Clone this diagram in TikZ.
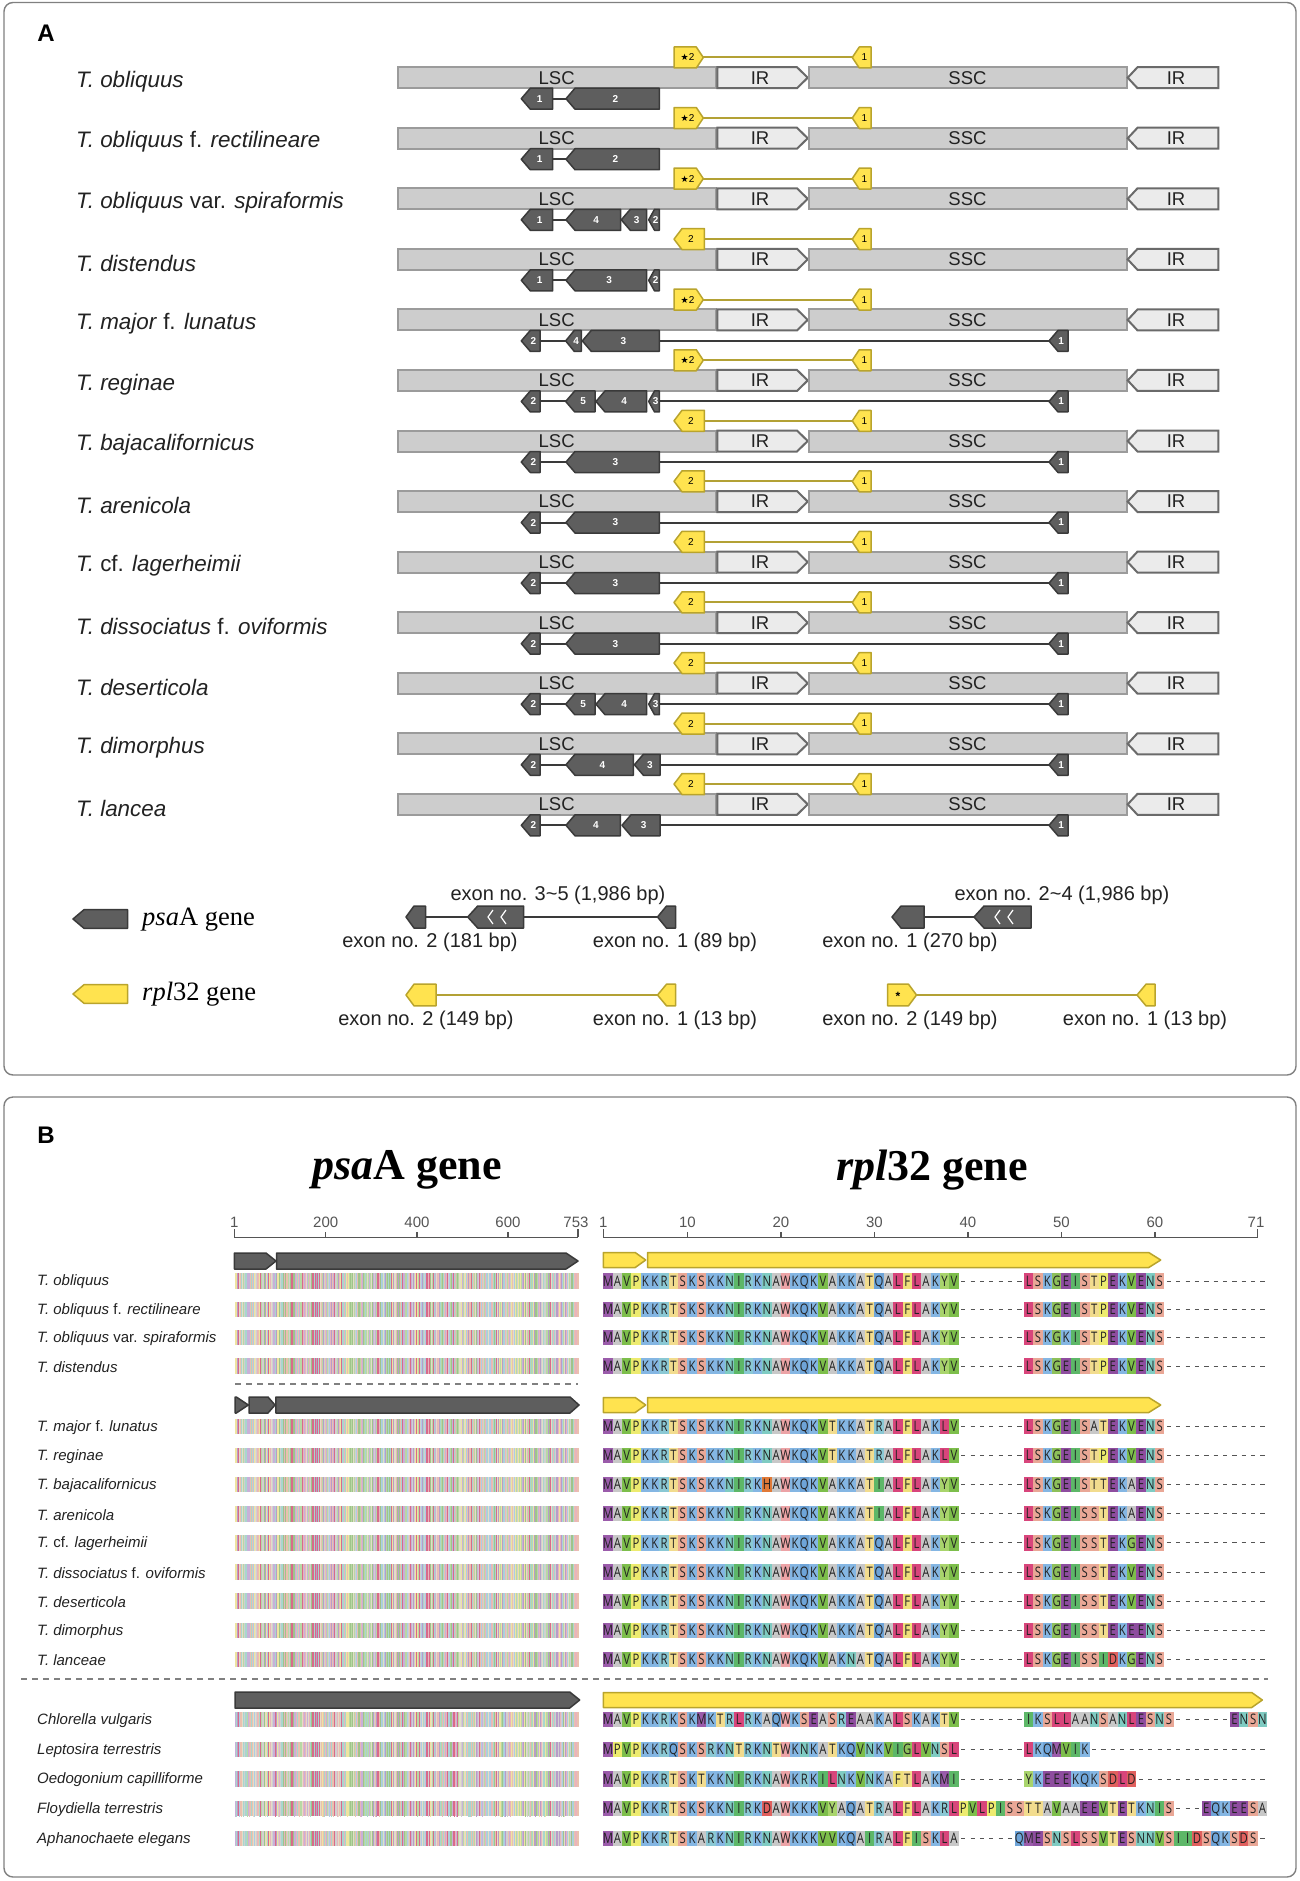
\documentclass[tikz,border=0pt]{standalone}
\usepackage{fontspec}
\setmainfont{Liberation Sans}
\newfontfamily\serifft{Liberation Serif}
\newfontfamily\resfont[FakeStretch=0.78]{Open Sans}
\newfontfamily\symfont{DejaVu Sans}

\definecolor{framec}{HTML}{808080}
\definecolor{barfill}{HTML}{CDCDCD}
\definecolor{bardraw}{HTML}{9B9B9B}
\definecolor{irfill}{HTML}{EBEBEB}
\definecolor{irdraw}{HTML}{6A6A6A}
\definecolor{psafill}{HTML}{5E5E5E}
\definecolor{psadraw}{HTML}{3A3A3A}
\definecolor{rplfill}{HTML}{FFE34F}
\definecolor{rpldraw}{HTML}{B9A42C}
\definecolor{rplline}{HTML}{B3A135}
\definecolor{txtc}{HTML}{222222}
\definecolor{scalec}{HTML}{555555}
% residue colours
\definecolor{resM}{HTML}{9A5BAA}
\definecolor{resA}{HTML}{C8C8C8}
\definecolor{resV}{HTML}{7DBE4B}
\definecolor{resP}{HTML}{EDEB6F}
\definecolor{resK}{HTML}{84B6E3}
\definecolor{resR}{HTML}{8AC8D4}
\definecolor{resT}{HTML}{F2DC8E}
\definecolor{resS}{HTML}{E9A796}
\definecolor{resN}{HTML}{7FCBC2}
\definecolor{resI}{HTML}{5DB768}
\definecolor{resW}{HTML}{ECA3A6}
\definecolor{resQ}{HTML}{6EA4D8}
\definecolor{resL}{HTML}{D8457B}
\definecolor{resF}{HTML}{EFE07A}
\definecolor{resY}{HTML}{A9D46C}
\definecolor{resE}{HTML}{8E4D9F}
\definecolor{resG}{HTML}{8DC05A}
\definecolor{resD}{HTML}{E0605E}
\definecolor{resH}{HTML}{E07A38}
% stripe palette
\definecolor{stc1}{HTML}{C8B0D8}
\definecolor{stc2}{HTML}{E8B4BC}
\definecolor{stc3}{HTML}{B8D8A4}
\definecolor{stc4}{HTML}{EEE4A0}
\definecolor{stc5}{HTML}{AECBE6}
\definecolor{stc6}{HTML}{D0D0D0}
\definecolor{stc7}{HTML}{EAC0AE}
\definecolor{stc8}{HTML}{A8D6CE}
\definecolor{stc9}{HTML}{D86A8A}
\definecolor{stc10}{HTML}{9FC48A}
\definecolor{stc11}{HTML}{E4DCC8}
\definecolor{stc12}{HTML}{B89CC8}

\tikzset{
  frame/.style={draw=framec,line width=1.4pt,rounded corners=9pt},
  chrbar/.style={fill=barfill,draw=bardraw,line width=2pt},
  irbox/.style={fill=irfill,draw=irdraw,line width=2pt,line join=miter},
  psastyle/.style={fill=psafill,draw=psadraw,line width=1.5pt,line join=round},
  rplstyle/.style={fill=rplfill,draw=rpldraw,line width=1.5pt,line join=round},
  psaline/.style={draw=psadraw,line width=2pt},
  rplln/.style={draw=rplline,line width=2pt},
  genelab/.style={font=\fontsize{10}{10}\selectfont\bfseries,text=white,inner sep=0},
  rpllab/.style={font=\fontsize{10}{10}\selectfont,text=black,inner sep=0},
  reglab/.style={font=\fontsize{18.5}{18.5}\selectfont,text=txtc,inner sep=0},
  splab/.style={font=\fontsize{22.4}{22.4}\selectfont,text=txtc,anchor=west,inner sep=0},
  spblab/.style={font=\fontsize{15}{15}\selectfont,text=txtc,anchor=west,inner sep=0},
  exonlab/.style={font=\fontsize{20}{20}\selectfont,text=txtc,inner sep=0},
  panlab/.style={font=\fontsize{24}{24}\selectfont\bfseries,inner sep=0},
  scalelab/.style={font=\fontsize{15}{15}\selectfont,text=scalec,inner sep=0},
  scaleln/.style={draw=scalec,line width=1.2pt},
  reslab/.style={font=\resfont\fontsize{14.5}{14.5}\selectfont,text=txtc,inner sep=0,text height=10.3,text depth=0},
  seqdash/.style={draw=scalec,line width=1pt},
  sepline/.style={draw=framec,line width=1.2pt,dash pattern=on 6pt off 5pt},
}

% pentagons
\newcommand\rpent[6]{% style,x1,x2,y,h,tip
  \path[#1] (#2,{#4-#5}) -- ({#3-#6},{#4-#5}) -- (#3,#4) -- ({#3-#6},{#4+#5}) -- (#2,{#4+#5}) -- cycle;}
\newcommand\lpent[6]{% style,x1,x2,y,h,tip
  \path[#1] (#2,#4) -- ({#2+#6},{#4-#5}) -- (#3,{#4-#5}) -- (#3,{#4+#5}) -- ({#2+#6},{#4+#5}) -- cycle;}
\newcommand\psabox[4]{% x1 x2 y label
  \pgfmathsetmacro\tl{min(9,0.55*(#2-#1))}%
  \lpent{psastyle}{#1}{#2}{#3}{10.5}{\tl}%
  \node[genelab] at ({(#1+0.6*\tl+#2)/2},#3) {#4};}
\newcommand\chrrow[1]{%
  \path[chrbar] (398.3,{#1-10.5}) rectangle (715.7,{#1+10.5});
  \path[irbox] (717.3,{#1-10.5}) -- (797,{#1-10.5}) -- (807.7,#1) -- (797,{#1+10.5}) -- (717.3,{#1+10.5}) -- cycle;
  \path[chrbar] (809,{#1-10.5}) rectangle (1126.7,{#1+10.5});
  \path[irbox] (1127.7,#1) -- (1137.5,{#1-10.5}) -- (1218.3,{#1-10.5}) -- (1218.3,{#1+10.5}) -- (1137.5,{#1+10.5}) -- cycle;
  \node[reglab] at (556.7,#1) {LSC};
  \node[reglab] at (760,#1) {IR};
  \node[reglab] at (967.5,#1) {SSC};
  \node[reglab] at (1176,#1) {IR};}
\newcommand\rplstar[1]{%
  \draw[rplln] (703,#1) -- (853,#1);
  \rpent{rplstyle}{674}{703.3}{#1}{10.5}{7}
  \node[rpllab] at (687.5,#1) {{\symfont\fontsize{9}{9}\selectfont ★}2};
  \lpent{rplstyle}{852.3}{871}{#1}{10.5}{7}
  \node[rpllab] at (864.5,#1) {1};}
\newcommand\rplplain[1]{%
  \draw[rplln] (703,#1) -- (853,#1);
  \lpent{rplstyle}{674}{704.4}{#1}{10.5}{8}
  \node[rpllab] at (691,#1) {2};
  \lpent{rplstyle}{852.3}{871}{#1}{10.5}{7}
  \node[rpllab] at (864.5,#1) {1};}

% sequence rows
\newcount\seqi
\newcommand\seqcell[1]{%
  \ifx#1-%
    \draw[seqdash] ({603.3+\the\seqi*9.35+2.6},\seqy) -- ++(4.2,0);%
  \else
    \fill[res#1] ({603.3+\the\seqi*9.35},{\seqy-7.6}) rectangle ++(9.35,15.2);%
    \node[reslab] at ({603.3+\the\seqi*9.35+4.675},\seqy) {#1};%
  \fi}
\def\seqloop#1{\ifx\relax#1\else\seqcell{#1}\advance\seqi by 1 \expandafter\seqloop\fi}
\newcommand\seqrow[2]{\def\seqy{#2}\seqi=0 \seqloop#1\relax}

\newsavebox\stripesA
\newsavebox\stripesB

\begin{document}
\begin{tikzpicture}[x=1pt,y=-1pt]
\pgfmathsetseed{11}%
\sbox\stripesA{\tikz[x=1pt,y=1pt]{\foreach \i in {0,...,343}{\pgfmathrandominteger{\c}{1}{12}\fill[stc\c] (\i,0) rectangle ++(1.05,15.4);}}}%
\pgfmathsetseed{29}%
\sbox\stripesB{\tikz[x=1pt,y=1pt]{\node[inner sep=0,anchor=south west] at (0,0) {\usebox\stripesA};
   \foreach \i in {0,...,90}{\pgfmathrandominteger{\p}{0}{343}\pgfmathrandominteger{\c}{1}{12}\fill[stc\c] (\p,0) rectangle ++(1.05,15.4);}}}%
\pgfresetboundingbox
\useasboundingbox (0,0) rectangle (1299,1881);
\fill[white] (0,0) rectangle (1299,1881);
\draw[frame] (4,2.5) rectangle (1296,1075);
\draw[frame] (4,1097) rectangle (1296,1877);
\node[panlab] (labA) at (46,33) {A};
\node[panlab] (labB) at (46,1135) {B};

% ---------- panel A: genome rows ----------
\foreach \i in {1,...,13}{\pgfmathsetmacro\yr{77.7+60.55*(\i-1)}\chrrow{\yr}}

\node[splab] (a1) at (76,81.5) {\itshape T. obliquus};
\node[splab] (a2) at (76,142.1) {\textit{T. obliquus} f. \textit{rectilineare}};
\node[splab] (a3) at (76,202.6) {\textit{T. obliquus} var. \textit{spiraformis}};
\node[splab] (a4) at (76,263.2) {\itshape T. distendus};
\node[splab] (a5) at (76,323.7) {\textit{T. major} f. \textit{lunatus}};
\node[splab] (a6) at (76,384.3) {\itshape T. reginae};
\node[splab] (a7) at (76,444.8) {\itshape T. bajacalifornicus};
\node[splab] (a8) at (76,505.4) {\itshape T. arenicola};
\node[splab] (a9) at (76,565.9) {\textit{T.} cf. \textit{lagerheimii}};
\node[splab] (a10) at (76,626.5) {\textit{T. dissociatus} f. \textit{oviformis}};
\node[splab] (a11) at (76,687.0) {\itshape T. deserticola};
\node[splab] (a12) at (76,747.6) {\itshape T. dimorphus};
\node[splab] (a13) at (76,808.1) {\itshape T. lancea};

% rpl32 rows (y = row - 20.2)
\rplstar{57.5}
\rplstar{118.05}
\rplstar{178.6}
\rplplain{239.15}
\rplstar{299.7}
\rplstar{360.25}
\rplplain{420.8}
\rplplain{481.35}
\rplplain{541.9}
\rplplain{602.45}
\rplplain{663.0}
\rplplain{723.55}
\rplplain{784.1}

% psaA rows (y = row + 21)
\foreach \y in {98.7,159.25}{
  \draw[psaline] (552,\y) -- (567,\y);
  \psabox{521.3}{552.7}{\y}{1}
  \psabox{566}{659.3}{\y}{2}}
\draw[psaline] (552,219.8) -- (567,219.8);
\psabox{521.3}{552.7}{219.8}{1}
\psabox{566}{620.7}{219.8}{4}
\psabox{621.3}{646.7}{219.8}{3}
\psabox{648.7}{659.3}{219.8}{2}
\draw[psaline] (552,280.35) -- (567,280.35);
\psabox{521.3}{552.7}{280.35}{1}
\psabox{566}{646.7}{280.35}{3}
\psabox{648.7}{659.3}{280.35}{2}
\foreach \y in {340.9,401.45,462.0,522.55,583.1,643.65,704.2,764.75,825.3}{
  \draw[psaline] (539,\y) -- (567,\y);
  \draw[psaline] (658,\y) -- (1050,\y);
  \psabox{521.3}{540}{\y}{2}
  \psabox{1049}{1068}{\y}{1}}
\psabox{565.7}{581.3}{340.9}{4}
\psabox{582.3}{659.3}{340.9}{3}
\foreach \y in {401.45,704.2}{
  \psabox{565.7}{595}{\y}{5}
  \psabox{596}{646.7}{\y}{4}
  \psabox{648.7}{659.3}{\y}{3}}
\foreach \y in {462.0,522.55,583.1,643.65}{\psabox{566}{659.3}{\y}{3}}
\psabox{566}{633.3}{764.75}{4}
\psabox{634.4}{660}{764.75}{3}
\psabox{566}{620.4}{825.3}{4}
\psabox{622}{660}{825.3}{3}

% ---------- legend ----------
\lpent{psastyle}{73}{127.6}{919}{9.3}{11}
\node[anchor=west,inner sep=0,font=\serifft\fontsize{26.5}{26.5}\selectfont] (legpsa) at (142,920) {\textit{psa}A gene};
\lpent{rplstyle}{73}{127.6}{994}{9.3}{11}
\node[anchor=west,inner sep=0,font=\serifft\fontsize{26.5}{26.5}\selectfont] (legrpl) at (142,994) {\textit{rpl}32 gene};

\draw[psaline] (425,917) -- (469,917);
\draw[psaline] (523,917) -- (658,917);
\lpent{psastyle}{406}{425.5}{917}{11}{8}
\lpent{psastyle}{467.7}{523.7}{917}{11}{10}
\lpent{psastyle}{657.5}{675.5}{917}{11}{9}
\draw[white,line width=1.2pt] (493,910) -- (488,917) -- (493,924);
\draw[white,line width=1.2pt] (506,910) -- (501,917) -- (506,924);
\node[exonlab] (e35) at (558,895) {exon no. 3\textasciitilde5 (1,986 bp)};
\node[exonlab] (e2a) at (430,942) {exon no. 2 (181 bp)};
\node[exonlab] (e1a) at (675,942) {exon no. 1 (89 bp)};
\draw[psaline] (923,917) -- (975,917);
\lpent{psastyle}{892}{924}{917}{11}{9}
\lpent{psastyle}{974}{1031}{917}{11}{10}
\draw[white,line width=1.2pt] (1000,910) -- (995,917) -- (1000,924);
\draw[white,line width=1.2pt] (1013,910) -- (1008,917) -- (1013,924);
\node[exonlab] (e24) at (1062,895) {exon no. 2\textasciitilde4 (1,986 bp)};
\node[exonlab] (e1b) at (910,942) {exon no. 1 (270 bp)};
\draw[rplln] (435,995) -- (658,995);
\lpent{rplstyle}{406}{436}{995}{10.8}{8}
\lpent{rplstyle}{657.5}{675.5}{995}{10.8}{9}
\node[exonlab] (r2a) at (426,1020) {exon no. 2 (149 bp)};
\node[exonlab] (r1a) at (675,1020) {exon no. 1 (13 bp)};
\draw[rplln] (915,995) -- (1138,995);
\rpent{rplstyle}{887.6}{916.5}{995}{10.8}{8}
\lpent{rplstyle}{1137}{1155}{995}{10.8}{9}
\node[rpllab,font=\fontsize{12}{12}\selectfont\bfseries] (star) at (898,996) {*};
\node[exonlab] (r2b) at (910,1020) {exon no. 2 (149 bp)};
\node[exonlab] (r1b) at (1145,1020) {exon no. 1 (13 bp)};

% ---------- panel B ----------
\node[inner sep=0,font=\serifft\bfseries\fontsize{44}{44}\selectfont] (tpsa) at (407,1170) {\textit{psa}A gene};
\node[inner sep=0,font=\serifft\bfseries\fontsize{44}{44}\selectfont] (trpl) at (932,1170) {\textit{rpl}32 gene};

\draw[scaleln] (234.4,1237.3) -- (578,1237.3);
\draw[scaleln] (234.4,1237.3) -- (234.4,1229);
\draw[scaleln] (578,1237.3) -- (578,1229);
\foreach \x in {325.7,417,508}{\draw[scaleln] (\x,1237.3) -- (\x,1231.5);}
\node[scalelab] at (234.4,1222) {1};
\node[scalelab] at (325.7,1222) {200};
\node[scalelab] at (417,1222) {400};
\node[scalelab] at (508,1222) {600};
\node[scalelab] at (576,1222) {753};
\draw[scaleln] (603.3,1237.3) -- (1257.8,1237.3);
\draw[scaleln] (603.3,1237.3) -- (603.3,1229);
\draw[scaleln] (1257.8,1237.3) -- (1257.8,1229);
\foreach \n in {10,20,30,40,50,60}{
  \draw[scaleln] ({603.3+(\n-1)*9.35},1237.3) -- ({603.3+(\n-1)*9.35},1231.5);
  \node[scalelab] at ({603.3+(\n-1)*9.35},1222) {\n};}
\node[scalelab] at (603.3,1222) {1};
\node[scalelab] at (1256,1222) {71};

\rpent{psastyle}{234.4}{276}{1261}{8}{10}
\rpent{psastyle}{276.5}{578}{1261}{8}{12}
\rpent{rplstyle}{603.3}{645.7}{1260}{7.5}{10.5}
\rpent{rplstyle}{647.7}{1160.7}{1260}{7.5}{12}
\rpent{psastyle}{235.2}{248.3}{1405}{8}{12}
\rpent{psastyle}{249}{275}{1405}{8}{7}
\rpent{psastyle}{275.9}{579}{1405}{8}{9}
\rpent{rplstyle}{603.3}{645.7}{1405}{7.5}{10.5}
\rpent{rplstyle}{647.7}{1160.7}{1405}{7.5}{12}
\rpent{psastyle}{235}{579.7}{1700}{8}{10}
\rpent{rplstyle}{603.3}{1262.3}{1700}{7.5}{10.6}

\draw[sepline] (235,1384) -- (578,1384);
\draw[sepline] (21,1679) -- (1268,1679);

\foreach \y in {1281,1309.3,1337.6,1366,1426.5,1455.6,1484.7,1513.8,1542.9,1572,1601.1,1630.2,1659.3}{
  \node[inner sep=0,anchor=west] at (234.4,\y) {\usebox\stripesA};}
\foreach \y in {1719.5,1749.3,1779,1808.8,1838.5}{
  \node[inner sep=0,anchor=west] at (234.4,\y) {\usebox\stripesB};}

\node[spblab] (b1) at (37,1282) {\itshape T. obliquus};
\node[spblab] (b2) at (37,1310.3) {\textit{T. obliquus} f. \textit{rectilineare}};
\node[spblab] (b3) at (37,1338.6) {\textit{T. obliquus} var. \textit{spiraformis}};
\node[spblab] (b4) at (37,1367) {\itshape T. distendus};
\node[spblab] (b5) at (37,1427.5) {\textit{T. major} f. \textit{lunatus}};
\node[spblab] (b6) at (37,1456.6) {\itshape T. reginae};
\node[spblab] (b7) at (37,1485.7) {\itshape T. bajacalifornicus};
\node[spblab] (b8) at (37,1514.8) {\itshape T. arenicola};
\node[spblab] (b9) at (37,1543.9) {\textit{T.} cf. \textit{lagerheimii}};
\node[spblab] (b10) at (37,1573) {\textit{T. dissociatus} f. \textit{oviformis}};
\node[spblab] (b11) at (37,1602.1) {\itshape T. deserticola};
\node[spblab] (b12) at (37,1631.2) {\itshape T. dimorphus};
\node[spblab] (b13) at (37,1660.3) {\itshape T. lanceae};
\node[spblab] (b14) at (37,1720.5) {\itshape Chlorella vulgaris};
\node[spblab] (b15) at (37,1750.3) {\itshape Leptosira terrestris};
\node[spblab] (b16) at (37,1780) {\itshape Oedogonium capilliforme};
\node[spblab] (b17) at (37,1809.8) {\itshape Floydiella terrestris};
\node[spblab] (b18) at (37,1839.5) {\itshape Aphanochaete elegans};

\seqrow{MAVPKKRTSKSKKNIRKNAWKQKVAKKATQALFLAKYV-------LSKGEISTPEKVENS-----------}{1281}
\seqrow{MAVPKKRTSKSKKNIRKNAWKQKVAKKATQALFLAKYV-------LSKGEISTPEKVENS-----------}{1309.3}
\seqrow{MAVPKKRTSKSKKNIRKNAWKQKVAKKATQALFLAKYV-------LSKGKISTPEKVENS-----------}{1337.6}
\seqrow{MAVPKKRTSKSKKNIRKNAWKQKVAKKATQALFLAKYV-------LSKGEISTPEKVENS-----------}{1366}
\seqrow{MAVPKKRTSKSKKNIRKNAWKQKVTKKATRALFLAKLV-------LSKGEISATEKVENS-----------}{1426.5}
\seqrow{MAVPKKRTSKSKKNIRKNAWKQKVTKKATRALFLAKLV-------LSKGEISTPEKVENS-----------}{1455.6}
\seqrow{MAVPKKRTSKSKKNIRKHAWKQKVAKKATIALFLAKYV-------LSKGEISTTEKAENS-----------}{1484.7}
\seqrow{MAVPKKRTSKSKKNIRKNAWKQKVAKKATIALFLAKYV-------LSKGEISSTEKAENS-----------}{1513.8}
\seqrow{MAVPKKRTSKSKKNIRKNAWKQKVAKKATQALFLAKYV-------LSKGEISSTEKGENS-----------}{1542.9}
\seqrow{MAVPKKRTSKSKKNIRKNAWKQKVAKKATQALFLAKYV-------LSKGEISSTEKVENS-----------}{1572}
\seqrow{MAVPKKRTSKSKKNIRKNAWKQKVAKKATQALFLAKYV-------LSKGEISSTEKVENS-----------}{1601.1}
\seqrow{MAVPKKRTSKSKKNIRKNAWKQKVAKKATQALFLAKYV-------LSKGEISSTEKEENS-----------}{1630.2}
\seqrow{MAVPKKRTSKSKKNIRKNAWKQKVAKNATQALFLAKYV-------LSKGEISSIDKGENS-----------}{1659.3}
\seqrow{MAVPKKRKSKMKTRLRKAQWKSEASREAAKALSKAKTV-------IKSLLAANSANLESNS------ENSN}{1719.5}
\seqrow{MPVPKKRQSKSRKNTRKNTWKNKATKQVNKVIGLVNSL-------LKQMVIK-------------------}{1749.3}
\seqrow{MAVPKKRTSKTKKNIRKNAWKRKILNKVNKAFTLAKMI-------YKEEEKQKSDLD--------------}{1779}
\seqrow{MAVPKKRTSKSKKNIRKDAWKKKVYAQATRALFLAKRLPVLPISSTTAVAAEEVTETKNIS---EQKEESA}{1808.8}
\seqrow{MAVPKKRTSKARKNIRKNAWKKKVVKQAIRALFISKLA------QMESNSLSSVTESNNVSIIDSQKSDS-}{1838.5}
\end{tikzpicture}
\end{document}
